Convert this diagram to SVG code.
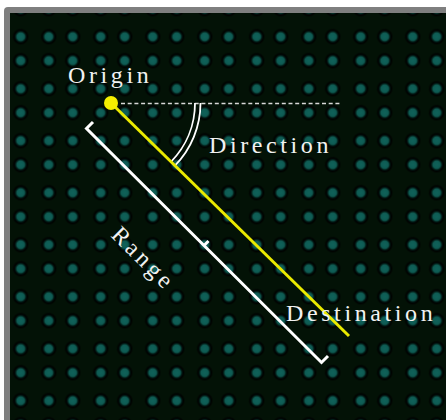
<svg xmlns="http://www.w3.org/2000/svg" width="446" height="420" viewBox="0 0 446 420">
  <style>
    .label { font-family: "Liberation Serif", "Times New Roman", serif; font-size: 24px; fill: #f2f2f2; letter-spacing: 3.6px; }
    .range { fill: none; stroke: #ffffff; stroke-width: 3; stroke-linejoin: miter; stroke-linecap: butt; }
    .arc { fill: none; stroke: #ffffff; stroke-width: 1.8; }
  </style>
  <defs>
    <radialGradient id="dotShade">
      <stop offset="0" stop-color="#10625a"/>
      <stop offset="0.45" stop-color="#0e5a52"/>
      <stop offset="0.58" stop-color="#03231c"/>
      <stop offset="0.75" stop-color="#000000"/>
      <stop offset="1" stop-color="#031206"/>
    </radialGradient>
    <pattern id="dots" patternUnits="userSpaceOnUse" x="6.7" y="-5.3" width="52" height="52">
      <rect width="52" height="52" fill="#031206"/>
      <circle cx="14" cy="14" r="8.5" fill="url(#dotShade)"/>
      <circle cx="42" cy="14" r="8.5" fill="url(#dotShade)"/>
      <circle cx="14" cy="42" r="8.5" fill="url(#dotShade)"/>
      <circle cx="42" cy="42" r="8.5" fill="url(#dotShade)"/>
    </pattern>
  </defs>

  <!-- page and framed panel -->
  <rect width="446" height="420" fill="#ffffff"/>
  <rect x="4" y="7" width="470" height="440" rx="4" fill="#7f7f7f"/>
  <rect x="10" y="13" width="460" height="430" fill="url(#dots)"/>

  <g id="connectors">
    <!-- reference heading (horizontal) -->
    <line x1="121" y1="103.5" x2="340" y2="103.5" stroke="#d8d8d8" stroke-width="1.5" stroke-dasharray="4 2.7"/>
    <!-- direction angle, double arc -->
    <path class="arc" d="M195,103 A84,84 0 0 1 171,161.8"/>
    <path class="arc" d="M200.5,103 A89.5,89.5 0 0 1 174.9,165.6"/>
    <!-- ray from origin to destination -->
    <line x1="111" y1="103" x2="349" y2="336" stroke="#eaea00" stroke-width="3"/>
    <!-- range bracket -->
    <path class="range" d="M93,122 L86.5,128.5 L321.5,362.5 L328,356"/>
    <path class="range" d="M204,245.5 l4.5,-4.5"/>
  </g>

  <g id="origin">
    <circle cx="111" cy="103" r="7" fill="#f5f000"/>
    <text class="label" x="68" y="83">Origin</text>
  </g>

  <g id="direction">
    <text class="label" x="209" y="153">Direction</text>
  </g>

  <g id="range">
    <text class="label" text-anchor="middle" transform="translate(143,259) rotate(45)" x="0" y="7">Range</text>
  </g>

  <g id="destination">
    <text class="label" x="286" y="320.5">Destination</text>
  </g>
</svg>
